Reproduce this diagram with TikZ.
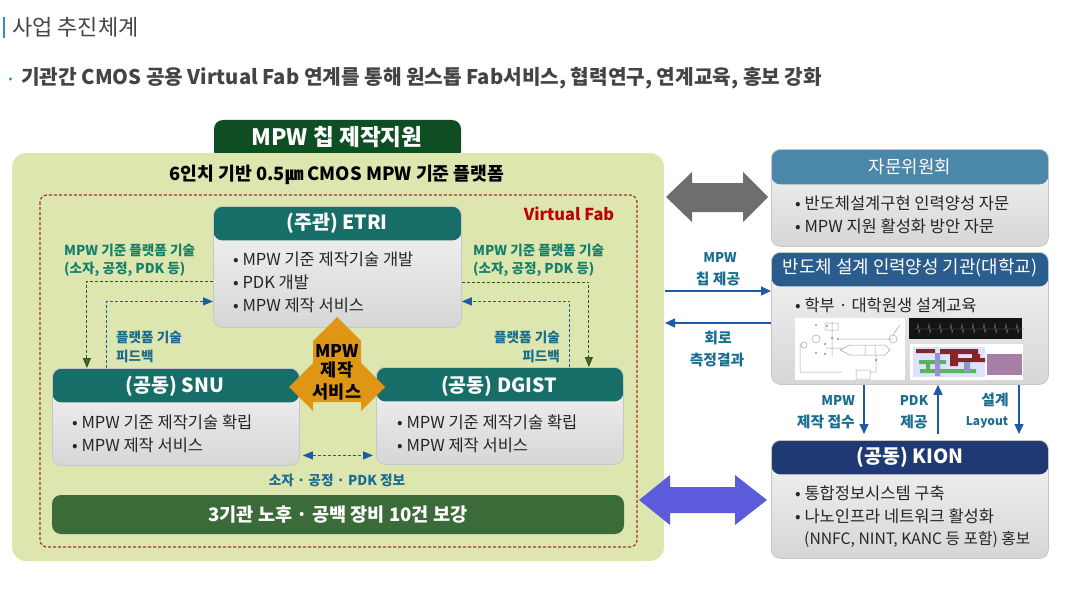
\documentclass[tikz,border=0pt]{standalone}
\usepackage{fontspec}
\setmainfont{Noto Sans CJK KR}
\usetikzlibrary{arrows.meta, positioning, calc}
\definecolor{barblue}{HTML}{2F8FB5}
\definecolor{titlegray}{HTML}{444444}
\definecolor{tabgreen}{HTML}{0F4D22}
\definecolor{platgreen}{HTML}{DDE6AE}
\definecolor{dashred}{HTML}{A8322A}
\definecolor{fabred}{HTML}{C00000}
\definecolor{headteal}{HTML}{176E68}
\definecolor{headsteel}{HTML}{4B87A8}
\definecolor{headblue}{HTML}{2A5D8E}
\definecolor{headnavy}{HTML}{1F3A72}
\definecolor{techgreen}{HTML}{17806B}
\definecolor{noteblue}{HTML}{1A6D8F}
\definecolor{linkblue}{HTML}{1F5AA6}
\definecolor{linkgreen}{HTML}{4A6B30}
\definecolor{barolive}{HTML}{3C6B3A}
\definecolor{crossorange}{HTML}{DE9614}
\definecolor{arrowgray}{HTML}{6E6E6E}
\definecolor{arrowviolet}{HTML}{5B5BDB}
\tikzset{
	panelbox/.style n args={4}{draw=black!22, line width=0.8pt, rounded corners=9pt, anchor=north west,
		minimum width=#1pt, minimum height=#2pt, inner sep=0pt, top color=black!4, bottom color=black!16,
		path picture={\fill[#4] (path picture bounding box.north west) rectangle ([yshift=-#3pt]path picture bounding box.north east);}},
	headtext/.style={text=white, font=\fontsize{19.5}{22}\selectfont\bfseries},
	sidehead/.style={text=white, font=\fontsize{17.9}{20}\selectfont},
	itemtext/.style={anchor=west, inner sep=0pt, text=black!85, font=\fontsize{16.5}{18}\selectfont},
	techtext/.style={inner sep=0pt, text=techgreen, font=\fontsize{13.6}{15}\selectfont\bfseries},
	notetext/.style={inner sep=0pt, text=noteblue, font=\fontsize{13.6}{15}\selectfont\bfseries},
	sidenote/.style={inner sep=0pt, text=noteblue, font=\fontsize{14.8}{17}\selectfont\bfseries},
	latinnote/.style={inner sep=0pt, text=noteblue, font=\fontsize{13.4}{17}\selectfont\bfseries},
	crosstext/.style={font=\fontsize{17.5}{20}\selectfont\bfseries},
	greenlink/.style={densely dashed, line width=1.1pt, draw=linkgreen!75!black, -{Triangle[length=10pt,width=8pt,fill=linkgreen]}},
	bluelink/.style={densely dashed, line width=1.1pt, draw=linkblue, -{Triangle[length=10pt,width=8pt]}},
	solidlink/.style={line width=1.3pt, draw=linkblue, -{Triangle[length=10pt,width=9pt]}},
}
\begin{document}
\begin{tikzpicture}[x=1pt,y=-1pt]
	\useasboundingbox (0,0) rectangle (1065,599);
	% heading
	\fill[barblue] (2.5,17) rectangle (4.5,38);
	\node[anchor=west,inner sep=0pt,text=titlegray,font=\fontsize{22}{24}\selectfont] (title) at (12,27) {사업 추진체계};
	\fill[barblue] (10.5,79) circle (1.7);
	\node[anchor=west,inner sep=0pt,text=titlegray,font=\fontsize{20.2}{24}\selectfont\bfseries] (subtitle) at (21,78) {기관간 CMOS 공용 Virtual Fab 연계를 통해 원스톱 Fab서비스, 협력연구, 연계교육, 홍보 강화};
	% green platform
	\fill[tabgreen,rounded corners=9pt] (214,160) -- (214,120) -- (461,120) -- (461,160) -- cycle;
	\fill[platgreen,rounded corners=14pt] (12,153) rectangle (664,561);
	\node[text=white,font=\fontsize{22.6}{24}\selectfont\bfseries] (tab) at (337,137) {MPW 칩 제작지원};
	\node[font=\fontsize{18.3}{20}\selectfont\bfseries] (plat) at (337,175) {6인치 기반 0.5㎛ CMOS MPW 기준 플랫폼};
	\draw[dashred,densely dashed,line width=1.2pt,rounded corners=7pt] (40,195) rectangle (637,547);
	\node[text=fabred,font=\fontsize{16.4}{18}\selectfont\bfseries] (fab) at (569,214) {Virtual Fab};
	% institutes
	\node[panelbox={248}{121}{34}{headteal}] (etri) at (213,206) {};
	\node[headtext] at (337,223) {(주관) ETRI};
	\node[itemtext] at (233,259) {• MPW 기준 제작기술 개발};
	\node[itemtext] at (233,282) {• PDK 개발};
	\node[itemtext] at (233,305) {• MPW 제작 서비스};
	\node[panelbox={247}{97}{34}{headteal}] (snu) at (52,368) {};
	\node[headtext] at (175,386) {(공동) SNU};
	\node[itemtext] at (72,422) {• MPW 기준 제작기술 확립};
	\node[itemtext] at (72,445) {• MPW 제작 서비스};
	\node[panelbox={247}{97}{34}{headteal}] (dgist) at (376,367) {};
	\node[headtext] at (499,386) {(공동) DGIST};
	\node[itemtext] at (397,422) {• MPW 기준 제작기술 확립};
	\node[itemtext] at (397,445) {• MPW 제작 서비스};
	% dashed links
	\draw[greenlink] ([yshift=-14.5pt]etri.west) -| ([xshift=-89pt]snu.north);
	\draw[greenlink] ([yshift=-15.5pt]etri.east) -| ([xshift=89pt]dgist.north);
	\draw[bluelink] ([xshift=-69pt]snu.north) |- ([yshift=-34.5pt]etri.west);
	\draw[bluelink] ([xshift=70pt]dgist.north) |- ([yshift=-34.5pt]etri.east);
	\draw[bluelink,{Triangle[length=10pt,width=8pt]}-{Triangle[length=10pt,width=8pt]}] ([xshift=3pt,yshift=-38.5pt]snu.east) -- ([xshift=-3pt,yshift=-39.5pt]dgist.west);
	\node[techtext,anchor=west] at (64,250) {MPW 기준 플랫폼 기술};
	\node[techtext,anchor=west] at (64,269) {(소자, 공정, PDK 등)};
	\node[techtext,anchor=west] at (473,250) {MPW 기준 플랫폼 기술};
	\node[techtext,anchor=west] at (473,269) {(소자, 공정, PDK 등)};
	\node[notetext,anchor=west] at (116,337) {플랫폼 기술};
	\node[notetext,anchor=west] at (116,356) {피드백};
	\node[notetext,anchor=east] at (560,337) {플랫폼 기술};
	\node[notetext,anchor=east] at (560,356) {피드백};
	\node[notetext] at (337,480) {소자 · 공정 · PDK 정보};
	% service cross
	\fill[crossorange] (337,317) -- (361,341) -- (361,363) -- (385,387) -- (361,411) -- (361,402) -- (313,402) -- (313,411) -- (289,387) -- (313,363) -- (313,341) -- cycle;
	\node[crosstext] (mpwcross) at (337,351) {MPW};
	\node[crosstext] (jejak) at (337,370) {제작};
	\node[crosstext] (service) at (337,392) {서비스};
	\node[fill=barolive,rounded corners=9pt,minimum width=572pt,minimum height=39pt,inner sep=0pt,text=white,font=\fontsize{18.6}{20}\selectfont\bfseries] (legacy) at (338,514.5) {3기관 노후 · 공백 장비 10건 보강};
	% right column
	\node[panelbox={277}{97}{35}{headsteel}] (advice) at (771,149) {};
	\node[sidehead] at (910,167) {자문위원회};
	\node[itemtext] at (795,203) {• 반도체설계구현 인력양성 자문};
	\node[itemtext] at (795,226) {• MPW 지원 활성화 방안 자문};
	\node[panelbox={277}{132}{34}{headblue}] (univ) at (771,252) {};
	\node[sidehead] at (910,268) {반도체 설계 인력양성 기관(대학교)};
	\node[itemtext] at (795,305) {• 학부 · 대학원생 설계교육};
	\node[panelbox={277}{118}{34}{headnavy}] (kion) at (771,440) {};
	\node[headtext] at (910,457) {(공동) KION};
	\node[itemtext] at (795,493) {• 통합정보시스템 구축};
	\node[itemtext] at (795,516) {• 나노인프라 네트워크 활성화};
	\node[itemtext,font=\fontsize{15.7}{18}\selectfont] at (804,539) {(NNFC, NINT, KANC 등 포함) 홍보};
	% class pictures
	\fill[white] (795,318) rectangle (905,380);
	\draw[black!35,line width=0.5pt] (800,343) -- (800,372) -- (842,372) (840,339) -- (893,339) (893,339) circle (4) (816,339) circle (4) (804,345) circle (3) (832,322) -- (832,356) (825,323) rectangle (838,330) (840,350) -- (850,345) -- (885,345) -- (890,350) -- (885,355) -- (850,355) -- cycle (856,370) rectangle (870,379) (870,372) -- (876,372) -- (876,355) (865,345) -- (865,355) (875,345) -- (875,355) (893,335) -- (900,325) (826,348) -- (842,348);
	\foreach \px/\py in {816/325,827/326,832/338,838/339,825/344,816/353,825/354,876/360}
		\fill[black!65] (\px,\py) circle (0.9);
	\fill[black!92] (909,318) rectangle (1022,339);
	\foreach \i in {0,...,9}
		\draw[black!50,line width=0.4pt] ({914+\i*11},329) -- ++(3,0) -- ++(1,-5) -- ++(1,9) -- ++(1,-4) -- ++(5,0);
	\fill[white] (910,344) rectangle (1023,380);
	\fill[blue!12] (913,347) rectangle (985,377);
	\fill[red!45!black!85] (916,349) rectangle (935,353) (940,349) rectangle (978,354) (950,354) rectangle (958,366) (958,358) rectangle (985,362) (972,354) rectangle (980,358);
	\fill[green!55!black!65] (919,360) rectangle (946,364) (920,369) rectangle (976,373) (926,364) rectangle (930,369);
	\fill[blue!40!gray!60] (935,353) rectangle (940,376) (964,362) rectangle (970,372);
	\fill[violet!45!gray!70] (987,354) rectangle (1022,375);
	% links between columns
	\fill[arrowgray] (666,197) -- (692,172) -- (692,183) -- (743,183) -- (743,172) -- (768,197) -- (743,222) -- (743,212) -- (692,212) -- (692,222) -- cycle;
	\fill[arrowviolet] (639,500) -- (670,475) -- (670,487) -- (735,487) -- (735,475) -- (767,500) -- (735,525) -- (735,513) -- (670,513) -- (670,525) -- cycle;
	\coordinate (chipend) at (665,291);
	\coordinate (meas) at (665,323);
	\draw[solidlink] (chipend) -- (chipend-|univ.west);
	\draw[solidlink] (meas-|univ.west) -- (meas);
	\node[latinnote] at (720,258) {MPW};
	\node[sidenote] at (718,279) {칩 제공};
	\node[sidenote] at (718,338) {회로};
	\node[sidenote] at (717,360) {측정결과};
	\draw[solidlink] (univ.south-|864,0) -- (864,434);
	\draw[solidlink] (938,434) -- (univ.south-|938,0);
	\draw[solidlink] (univ.south-|1019,0) -- (1019,434);
	\node[latinnote,anchor=east] at (855,401) {MPW};
	\node[sidenote,anchor=east] at (855,422) {제작 접수};
	\node[latinnote] at (914,401) {PDK};
	\node[sidenote] at (914,422) {제공};
	\node[sidenote] at (995,400) {설계};
	\node[latinnote,font=\fontsize{12}{17}\selectfont\bfseries] at (987,422) {Layout};
\end{tikzpicture}
\end{document}
